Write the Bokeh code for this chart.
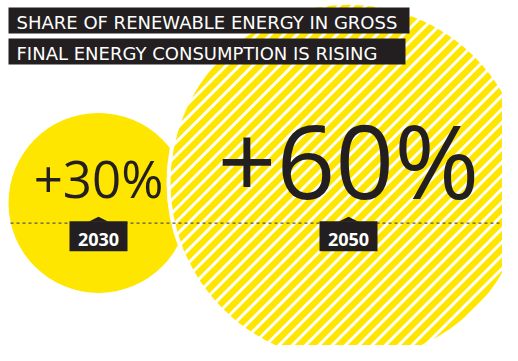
import numpy as np
from bokeh.plotting import figure
from bokeh.models import Range1d
from bokeh.embed import file_html
from bokeh.resources import INLINE
from bokeh.core.properties import value

# ---- data ----
title_lines = ["SHARE OF RENEWABLE ENERGY IN GROSS", "FINAL ENERGY CONSUMPTION IS RISING"]
years = ["2030", "2050"]
shares = [30, 60]
share_labels = ["+30%", "+60%"]

# ---- style / layout (pixel units, y measured downward from the top) ----
W, H = 502, 345
YELLOW = "#FFE600"
DARK = "#231F20"
PX_PER_PCT = 3.0
LEFT = 8
LINE_Y = 222.7
OVERLAP = 20
BASE_K = 0.36          # renderer places the alphabetic baseline this many em below the anchor
STRIPE_PERIOD = 13.3   # horizontal distance between 45-degree stripes
STRIPE_WIDTH = 3.0


def sy(v):
    """screen-down pixel -> data y (y axis points up)"""
    return H - v


def base(v, size):
    """anchor y so that the text baseline lands on screen row v"""
    return sy(v - BASE_K * size)


radii = [s * PX_PER_PCT for s in shares]
cx = [LEFT + radii[0], LEFT + 2 * radii[0] + radii[1] - OVERLAP]
cy = [LINE_Y - r * 0.225 for r in radii]

p = figure(width=W, height=H, output_backend="svg", toolbar_location=None,
           x_range=Range1d(0, W), y_range=Range1d(0, H),
           min_border=0, outline_line_color=None)
p.axis.visible = False
p.grid.visible = False
p.background_fill_color = "white"
p.border_fill_color = "white"

# small circle (solid)
p.circle(x=[cx[0]], y=[sy(cy[0])], radius=[radii[0]], fill_color=YELLOW, line_color=None)
# big circle (yellow base)
p.circle(x=[cx[1]], y=[sy(cy[1])], radius=[radii[1]], fill_color=YELLOW, line_color=None)

# 45-degree white stripes clipped to the big circle
ccx, ccy, R = cx[1], cy[1], radii[1]
s2 = np.sqrt(2.0)
n = int(R * s2 / STRIPE_PERIOD) + 1
x0s, y0s, x1s, y1s = [], [], [], []
for k in range(-n, n + 1):
    d = k * STRIPE_PERIOD / s2          # signed distance of stripe from centre
    if abs(d) >= R:
        continue
    L = np.sqrt(R * R - d * d)
    fx, fy = ccx + d / s2, ccy + d / s2  # foot of perpendicular (screen coords)
    ux, uy = 1 / s2, -1 / s2             # direction up-right on screen
    x0s.append(fx - L * ux); y0s.append(sy(fy - L * uy))
    x1s.append(fx + L * ux); y1s.append(sy(fy + L * uy))
p.segment(x0=x0s, y0=y0s, x1=x1s, y1=y1s, line_color="white", line_width=STRIPE_WIDTH)

# white ring around the big circle
p.circle(x=[ccx], y=[sy(ccy)], radius=[R], fill_color=None, line_color="white", line_width=4)

# share labels
for x, lab, r in zip(cx, share_labels, radii):
    size = round(r * 0.57)
    p.text(x=[x], y=[base(LINE_Y - 27, size)], text=[lab], text_align="center", text_baseline="alphabetic",
           text_font=value("Open Sans"), text_font_size=f"{size}px", text_color=DARK)

# dotted baseline
p.line(x=[10, W], y=[sy(LINE_Y)] * 2, line_color="#555555", line_width=1.2, line_dash="3 3")

# year boxes with notch
BOX_W, BOX_H = 58, 30
box_top = LINE_Y - 2
p.quad(left=[x - BOX_W / 2 for x in cx], right=[x + BOX_W / 2 for x in cx],
       top=[sy(box_top)] * 2, bottom=[sy(box_top + BOX_H)] * 2, fill_color=DARK, line_color=None)
p.patches(xs=[[x - 10, x, x + 10] for x in cx],
          ys=[[sy(box_top + 0.5), sy(box_top - 4.5), sy(box_top + 0.5)]] * 2,
          fill_color=DARK, line_color=None)
p.text(x=cx, y=[base(box_top + 24.3, 18)] * 2, text=years, text_align="center", text_baseline="alphabetic",
       text_font=value("Open Sans"), text_font_style="bold", text_font_size="18px", text_color="white")

# title bars
bar_right = [409, 405]
bar_top = [7, 38]
for line, r, t in zip(title_lines, bar_right, bar_top):
    p.quad(left=[LEFT], right=[r], top=[sy(t)], bottom=[sy(t + 26)], fill_color=DARK, line_color=None)
    p.text(x=[LEFT + 8], y=[base(t + 21.3, 18)], text=[line], text_align="left", text_baseline="alphabetic",
           text_font=value("DejaVu Sans"), text_font_size="18px", text_color="white")

open("out.html", "w").write(file_html(p, INLINE))
